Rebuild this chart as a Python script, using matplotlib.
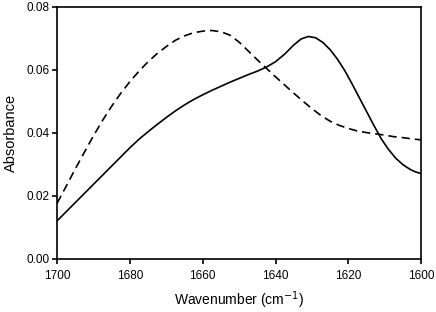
import matplotlib
matplotlib.use("Agg")
import matplotlib.pyplot as plt

plt.rcParams["font.family"] = ["Liberation Sans", "DejaVu Sans"]

# Solid spectrum (wavenumber, absorbance)
solid_wn = [1700, 1697.5, 1695, 1692.5, 1690, 1687.5, 1685, 1682.5, 1680, 1677.5, 1675,
            1672.5, 1670, 1667.5, 1665, 1662.5, 1660, 1657.5, 1655, 1652.5, 1650, 1647.5,
            1645, 1642.5, 1640, 1637.5, 1635, 1633, 1631, 1629, 1627, 1625, 1623, 1621,
            1619, 1617, 1615, 1613, 1611, 1609, 1607, 1605, 1603, 1601.5, 1600]
solid_abs = [0.0121, 0.0150, 0.0179, 0.0208, 0.0237, 0.0266, 0.0295, 0.0324, 0.0353, 0.0380, 0.0404,
             0.0427, 0.0449, 0.0470, 0.0489, 0.0506, 0.0521, 0.0535, 0.0548, 0.0561, 0.0573, 0.0585,
             0.0596, 0.0609, 0.0626, 0.0650, 0.0679, 0.0698, 0.0706, 0.0702, 0.0687, 0.0664, 0.0634,
             0.0598, 0.0556, 0.0512, 0.0468, 0.0424, 0.0382, 0.0348, 0.0320, 0.0299, 0.0284, 0.0276,
             0.0271]

# Dashed spectrum
dashed_wn = [1700, 1697.5, 1695, 1692.5, 1690, 1687.5, 1685, 1682.5, 1680, 1677.5, 1675,
             1672.5, 1670, 1667.5, 1665, 1662.5, 1660, 1657.5, 1655, 1652.5, 1650, 1647.5,
             1645, 1642.5, 1640, 1637.5, 1635, 1632.5, 1630, 1627.5, 1625, 1622.5, 1620,
             1617.5, 1615, 1612.5, 1610, 1607.5, 1605, 1602.5, 1600]
dashed_abs = [0.0177, 0.0231, 0.0286, 0.0339, 0.0391, 0.0440, 0.0485, 0.0526, 0.0563, 0.0596, 0.0626,
              0.0652, 0.0674, 0.0694, 0.0708, 0.0718, 0.0723, 0.0725, 0.0721, 0.0710, 0.0688, 0.0660,
              0.0632, 0.0605, 0.0578, 0.0552, 0.0526, 0.0501, 0.0477, 0.0455, 0.0437, 0.0424, 0.0414,
              0.0406, 0.0401, 0.0397, 0.0393, 0.0388, 0.0385, 0.0381, 0.0378]

x_ticks = [1700, 1680, 1660, 1640, 1620, 1600]
y_ticks = [0.00, 0.02, 0.04, 0.06, 0.08]

fig = plt.figure(figsize=(4.36, 3.12), dpi=100)
ax = fig.add_axes([0.131, 0.170, 0.835, 0.808])

ax.plot(solid_wn, solid_abs, color="black", linewidth=1.2, solid_joinstyle="round")
ax.plot(dashed_wn, dashed_abs, color="black", linewidth=1.2, linestyle=(0, (5, 3)))

ax.set_xlim(1700, 1600)
ax.set_ylim(0, 0.08)
ax.set_xticks(x_ticks)
ax.set_yticks(y_ticks)
ax.set_yticklabels([f"{v:.2f}" for v in y_ticks])

for s in ax.spines.values():
    s.set_linewidth(1.2)
ax.tick_params(direction="out", length=3.5, width=1.2, labelsize=8.5)
ax.tick_params(axis="x", pad=4.5)
ax.tick_params(axis="y", pad=2)

ax.set_xlabel("Wavenumber (cm$^{-1}$)", fontsize=10, labelpad=5)
ax.set_ylabel("Absorbance", fontsize=10.5, labelpad=6)

fig.savefig("out.png", dpi=100)
